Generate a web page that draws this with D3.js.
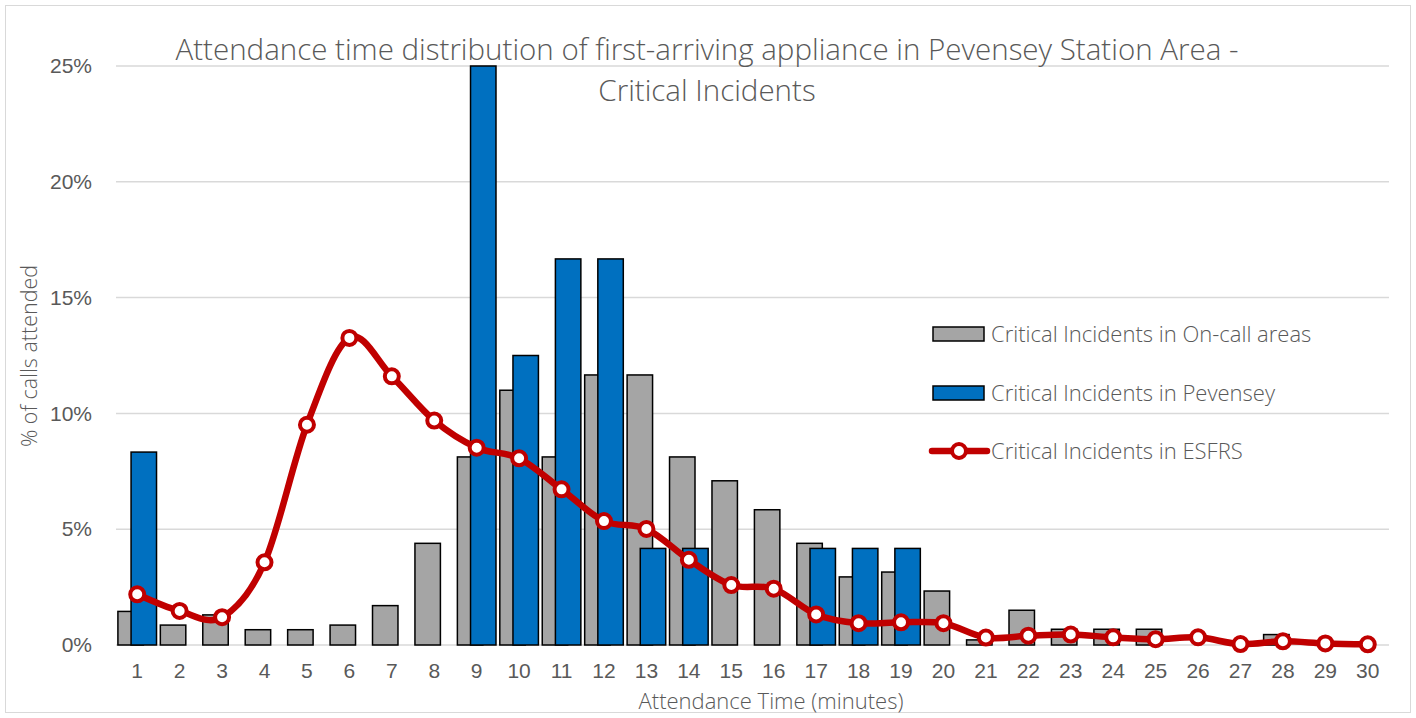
<!DOCTYPE html>
<html><head><meta charset="utf-8">
<script src="https://cdn.jsdelivr.net/npm/d3@7"></script>
<style>
html,body{margin:0;padding:0;background:#fff;}
svg{display:block;font-family:"Open Sans","Noto Sans",sans-serif;font-weight:300;}
</style></head>
<body><svg id="chart" width="1416" height="718"></svg>
<script>
const categories = d3.range(1, 31).map(String);
const onCallValues = [1.45,0.86,1.3,0.66,0.66,0.86,1.7,4.39,8.12,11.0,8.12,11.66,11.66,8.12,7.09,5.84,4.39,2.94,3.15,2.33,0.22,1.5,0.68,0.68,0.68,0,0,0.45,0,0];
const pevenseyValues = [8.33,0,0,0,0,0,0,0,25,12.5,16.67,16.67,4.17,4.17,0,0,4.17,4.17,4.17,0,0,0,0,0,0,0,0,0,0,0];
const esfrsValues = [2.19,1.47,1.2,3.57,9.51,13.26,11.6,9.69,8.52,8.06,6.72,5.35,5.01,3.68,2.59,2.43,1.32,0.94,0.98,0.94,0.32,0.4,0.45,0.33,0.25,0.33,0.04,0.16,0.07,0.03];
const yTicks = [0,5,10,15,20,25];
const seriesNames = ["Critical Incidents in On-call areas","Critical Incidents in Pevensey","Critical Incidents in ESFRS"];
const titleLines = ["Attendance time distribution of first-arriving appliance in Pevensey Station Area -","Critical Incidents"];

const svg = d3.select("#chart");
const plot = {left:116, right:1389, top:66, bottom:645};
const txt = "#595959";

svg.append("rect").attr("x",5.5).attr("y",5.5).attr("width",1405).attr("height",707)
  .attr("fill","#fff").attr("stroke","#d9d9d9").attr("stroke-width",1);

const x = d3.scaleBand().domain(categories).range([plot.left, plot.right]).padding(0);
const y = d3.scaleLinear().domain([0,25]).range([plot.bottom, plot.top]);

// gridlines
svg.append("g").selectAll("line").data(yTicks).join("line")
  .attr("x1",plot.left).attr("x2",plot.right)
  .attr("y1",d=>y(d)).attr("y2",d=>y(d))
  .attr("stroke","#d9d9d9").attr("stroke-width",1.5);

// y axis labels
const yAxis = d3.axisLeft(y).tickValues(yTicks).tickFormat(d=>d+"%").tickSize(0).tickPadding(0);
const gy = svg.append("g").attr("transform",`translate(92,0)`).call(yAxis);
gy.select(".domain").remove();
gy.selectAll("text").attr("fill",txt).style("font-size","21px").style("font-family","inherit");

// x axis labels
const xAxis = d3.axisBottom(x).tickSize(0).tickPadding(0);
const gx = svg.append("g").attr("transform",`translate(0,${plot.bottom+26})`).call(xAxis);
gx.select(".domain").remove();
gx.selectAll("text").attr("fill",txt).style("font-size","21px").style("font-family","inherit").attr("dy","0.35em");

// bars
const bw = x.bandwidth();
const barW = bw*0.60;
const off = bw*0.155;
svg.append("g").selectAll("rect").data(categories.map((c,i)=>({c,v:onCallValues[i]}))).join("rect")
  .attr("x",d=>x(d.c)+bw/2-off-barW/2).attr("width",barW)
  .attr("y",d=>y(d.v)).attr("height",d=>y(0)-y(d.v))
  .attr("fill","#A5A5A5").attr("stroke","#000").attr("stroke-width",1.5)
  .style("display",d=>d.v>0?null:"none");
svg.append("g").selectAll("rect").data(categories.map((c,i)=>({c,v:pevenseyValues[i]}))).join("rect")
  .attr("x",d=>x(d.c)+bw/2+off-barW/2).attr("width",barW)
  .attr("y",d=>y(d.v)).attr("height",d=>y(0)-y(d.v))
  .attr("fill","#0070C0").attr("stroke","#000").attr("stroke-width",1.5)
  .style("display",d=>d.v>0?null:"none");

// line
const pts = categories.map((c,i)=>[x(c)+bw/2, y(esfrsValues[i])]);
svg.append("path").attr("d", d3.line().curve(d3.curveCatmullRom.alpha(0))(pts))
  .attr("fill","none").attr("stroke","#C00000").attr("stroke-width",6.5).attr("stroke-linejoin","round").attr("stroke-linecap","round");
svg.append("g").selectAll("circle").data(pts).join("circle")
  .attr("cx",d=>d[0]).attr("cy",d=>d[1]).attr("r",7)
  .attr("fill","#fff").attr("stroke","#C00000").attr("stroke-width",4);

// title
svg.append("g").selectAll("text").data(titleLines).join("text")
  .attr("x",707).attr("y",(d,i)=>60+i*41).attr("text-anchor","middle")
  .attr("fill",txt).style("font-size","29.5px").text(d=>d);

// axis titles
svg.append("text").attr("transform","translate(37,356) rotate(-90)").attr("text-anchor","middle")
  .attr("fill",txt).style("font-size","21.5px").text("% of calls attended");
svg.append("text").attr("x",771).attr("y",709).attr("text-anchor","middle")
  .attr("fill",txt).style("font-size","22px").text("Attendance Time (minutes)");

// legend
const leg = svg.append("g");
const legY = [334, 393, 451];
leg.append("rect").attr("x",933).attr("y",legY[0]-7).attr("width",51).attr("height",14)
  .attr("fill","#A5A5A5").attr("stroke","#000").attr("stroke-width",1.5);
leg.append("rect").attr("x",933).attr("y",legY[1]-7).attr("width",51).attr("height",14)
  .attr("fill","#0070C0").attr("stroke","#000").attr("stroke-width",1.5);
leg.append("line").attr("x1",932).attr("x2",987).attr("y1",legY[2]).attr("y2",legY[2])
  .attr("stroke","#C00000").attr("stroke-width",6.5).attr("stroke-linecap","round");
leg.append("circle").attr("cx",959).attr("cy",legY[2]).attr("r",7)
  .attr("fill","#fff").attr("stroke","#C00000").attr("stroke-width",4);
leg.selectAll("text.l").data(seriesNames).join("text").attr("class","l")
  .attr("x",991).attr("y",(d,i)=>legY[i]).attr("dy","0.35em")
  .attr("fill",txt).style("font-size","22px").text(d=>d);
</script></body></html>
